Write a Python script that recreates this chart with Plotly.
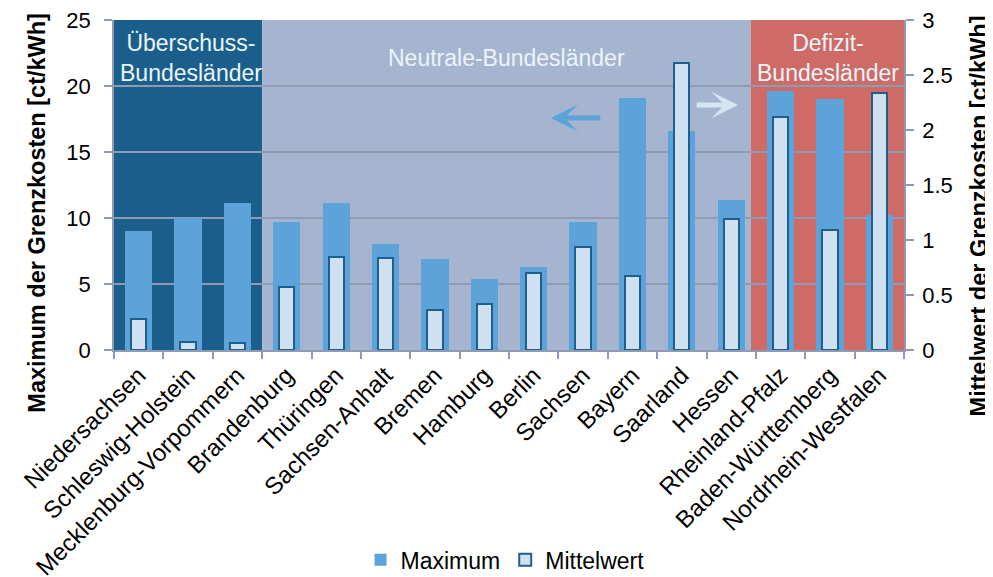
import plotly.graph_objects as go

laender = ["Niedersachsen", "Schleswig-Holstein", "Mecklenburg-Vorpommern", "Brandenburg",
           "Thüringen", "Sachsen-Anhalt", "Bremen", "Hamburg", "Berlin", "Sachsen",
           "Bayern", "Saarland", "Hessen", "Rheinland-Pfalz", "Baden-Württemberg",
           "Nordrhein-Westfalen"]
maximum = [9.0, 10.0, 11.1, 9.7, 11.1, 8.0, 6.9, 5.4, 6.3, 9.7, 19.1, 16.6, 11.4, 19.6, 19.0, 10.2]
mittelwert = [0.28, 0.07, 0.06, 0.57, 0.85, 0.84, 0.36, 0.42, 0.70, 0.94, 0.67, 2.61, 1.19, 2.12, 1.09, 2.34]

left_ticks = [0, 5, 10, 15, 20, 25]
right_ticks = [0, 0.5, 1, 1.5, 2, 2.5, 3]
right_ticklabels = ["0", "0.5", "1", "1.5", "2", "2.5", "3"]

FONT = "Liberation Sans, Arial, sans-serif"
GRID = "#8E9BB2"
AXIS = "#8E9BB2"

fig = go.Figure()
fig.add_trace(go.Bar(
    x=laender, y=maximum, name="Maximum", yaxis="y",
    marker=dict(color="#5BA3D9", line=dict(width=0)),
    width=0.55, offset=-0.275,
))
fig.add_trace(go.Bar(
    x=laender, y=mittelwert, name="Mittelwert", yaxis="y2",
    marker=dict(color="#CFE0F1", line=dict(color="#1F5F8E", width=2)),
    width=0.31, offset=-0.155,
))

# background regions
regions = [(-0.5, 2.5, "#1A5F8C"), (2.5, 12.4, "#A6B5CF"), (12.4, 15.5, "#CF6B66")]
shapes = []
for x0, x1, c in regions:
    shapes.append(dict(type="rect", xref="x", yref="paper", x0=x0, x1=x1, y0=0, y1=1,
                       fillcolor=c, line=dict(width=0), layer="below"))

txtc = "#EAF4F8"
annotations = [
    dict(x=1.06, y=0.885, xref="x", yref="paper", text="Überschuss-<br>Bundesländer",
         showarrow=False, xanchor="center", yanchor="middle",
         font=dict(size=23, color=txtc, family=FONT)),
    dict(x=7.44, y=0.885, xref="x", yref="paper", text="Neutrale-Bundesländer",
         showarrow=False, xanchor="center", yanchor="middle",
         font=dict(size=23, color=txtc, family=FONT)),
    dict(x=13.96, y=0.885, xref="x", yref="paper", text="Defizit-<br>Bundesländer",
         showarrow=False, xanchor="center", yanchor="middle",
         font=dict(size=23, color=txtc, family=FONT)),
    # arrows
    dict(x=8.35, y=17.58, xref="x", yref="y", ax=9.38, ay=17.58, axref="x", ayref="y",
         text="", showarrow=True, arrowhead=3, arrowwidth=5, arrowsize=0.9,
         arrowcolor="#5BA3D9"),
    dict(x=12.14, y=18.56, xref="x", yref="y", ax=11.27, ay=18.56, axref="x", ayref="y",
         text="", showarrow=True, arrowhead=3, arrowwidth=5, arrowsize=0.9,
         arrowcolor="#D4E6F2"),
    # axis titles
    dict(x=-0.098, y=0.415, xref="paper", yref="paper", text="<b>Maximum der Grenzkosten [ct/kWh]</b>",
         textangle=-90, showarrow=False, xanchor="center", yanchor="middle",
         font=dict(size=23.5, color="#000000", family=FONT)),
    dict(x=1.095, y=0.405, xref="paper", yref="paper", text="<b>Mittelwert der Grenzkosten [ct/kWh]</b>",
         textangle=-90, showarrow=False, xanchor="center", yanchor="middle",
         font=dict(size=23.5, color="#000000", family=FONT)),
]

# the page body has an 8px default margin, so the figure is 8px smaller and margins shifted
fig.update_layout(
    width=985, height=569,
    margin=dict(l=106, r=89, t=12, b=227, pad=0, autoexpand=False),
    paper_bgcolor="white", plot_bgcolor="white",
    font=dict(family=FONT, size=22, color="#000000"),
    barmode="overlay",
    bargap=0,
    shapes=shapes,
    annotations=annotations,
    showlegend=True,
    legend=dict(orientation="h", x=0.495, xanchor="center", y=-0.636, yanchor="middle",
                font=dict(size=23, family=FONT), bgcolor="rgba(0,0,0,0)",
                itemwidth=30, tracegroupgap=0),
    xaxis=dict(
        type="category", range=[-0.5, 15.5], tickangle=-45, automargin=False,
        showline=True, linecolor=AXIS, linewidth=1.5,
        ticks="outside", tickson="boundaries", ticklen=7, tickcolor=AXIS, tickwidth=1.5,
        showgrid=False, tickfont=dict(size=24, family=FONT), ticklabeloverflow="allow",
    ),
    yaxis=dict(
        range=[0, 25], tickvals=left_ticks, ticktext=[str(v) for v in left_ticks],
        automargin=False, ticklabeloverflow="allow", ticklabelstandoff=9,
        showline=True, linecolor=AXIS, linewidth=1.5,
        ticks="outside", ticklen=8, tickcolor=AXIS, tickwidth=1.5,
        showgrid=True, gridcolor=GRID, gridwidth=1.5, zeroline=False,
        tickfont=dict(size=22, family=FONT),
    ),
    yaxis2=dict(
        range=[0, 3], overlaying="y", side="right", tickvals=right_ticks, ticktext=right_ticklabels,
        automargin=False, ticklabeloverflow="allow", ticklabelstandoff=4,
        showline=True, linecolor=AXIS, linewidth=1.5,
        ticks="outside", ticklen=8, tickcolor=AXIS, tickwidth=1.5,
        showgrid=False, zeroline=False,
        tickfont=dict(size=22, family=FONT),
    ),
)

fig.write_html("out.html")
